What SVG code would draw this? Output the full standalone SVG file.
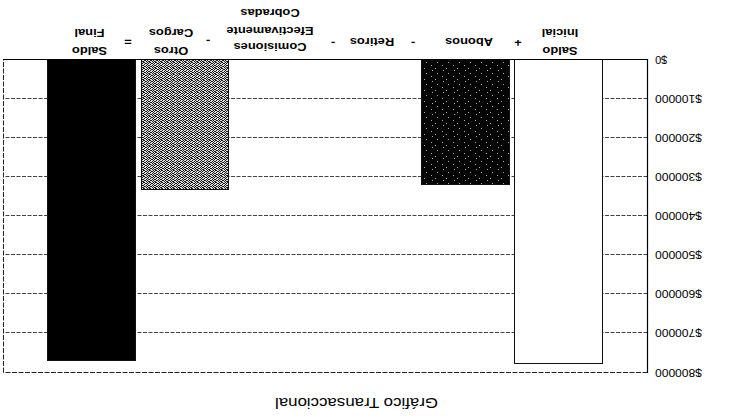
<svg xmlns="http://www.w3.org/2000/svg" width="731" height="419" viewBox="0 0 731 419">
<style>
.grid{stroke:#444;stroke-width:1;stroke-dasharray:4 1.5;fill:none}
.frame{stroke:#222;stroke-width:1;stroke-dasharray:5 1.5;fill:none}
.axis{stroke:#000;stroke-width:1.2;fill:none}
.ylab{font-family:"Liberation Sans",Arial,sans-serif;font-size:11px;fill:#000;text-anchor:end}
.cat{font-family:"Liberation Sans",Arial,sans-serif;font-size:11.5px;font-weight:bold;fill:#000;text-anchor:middle}
.title{font-family:"Liberation Sans",Arial,sans-serif;font-size:14px;fill:#000;text-anchor:middle}
.bar{stroke:#111;stroke-width:1}
</style>
<defs>
<pattern id="dark" width="11" height="11" patternUnits="userSpaceOnUse">
<rect width="11" height="11" fill="#050505"/>
<path d="M2 1h1v1h-1zM7 4h1v1h-1zM1 7h1v1h-1zM9 9h1v1h-1z" fill="#aaa"/>
</pattern>
<pattern id="gray" width="6" height="6" patternUnits="userSpaceOnUse">
<rect width="6" height="6" fill="#1a1a1a"/>
<path d="M0 0h1v1h-1zM2 0h1v1h-1zM3 0h1v1h-1zM5 0h1v1h-1zM1 1h1v1h-1zM4 1h1v1h-1zM5 1h1v1h-1zM0 2h1v1h-1zM2 2h1v1h-1zM3 2h1v1h-1zM1 3h1v1h-1zM3 3h1v1h-1zM4 3h1v1h-1zM0 4h1v1h-1zM2 4h1v1h-1zM5 4h1v1h-1zM1 5h1v1h-1zM3 5h1v1h-1zM4 5h1v1h-1z" fill="#ddd"/>
</pattern>
</defs>
<rect width="731" height="419" fill="#fff"/>
<g transform="rotate(180 365.5 209.5)">
  <g id="gridlines">
    <line class="grid" x1="83.5" y1="320.5" x2="727.5" y2="320.5"/>
    <line class="grid" x1="83.5" y1="281.5" x2="727.5" y2="281.5"/>
    <line class="grid" x1="83.5" y1="242.5" x2="727.5" y2="242.5"/>
    <line class="grid" x1="83.5" y1="203.5" x2="727.5" y2="203.5"/>
    <line class="grid" x1="83.5" y1="164.5" x2="727.5" y2="164.5"/>
    <line class="grid" x1="83.5" y1="125.5" x2="727.5" y2="125.5"/>
    <line class="grid" x1="83.5" y1="86.5" x2="727.5" y2="86.5"/>
    <line class="frame" x1="83.5" y1="46.5" x2="727.5" y2="46.5"/>
    <line class="frame" x1="727.5" y1="46.5" x2="727.5" y2="359.5"/>
  </g>
  <g id="bar-saldo-inicial"><rect class="bar" x="128.5" y="55.5" width="88" height="304" fill="#fff"/></g>
  <g id="bar-abonos"><rect class="bar" x="221.5" y="234.5" width="88" height="125" fill="url(#dark)"/></g>
  <g id="bar-otros-cargos"><rect class="bar" x="502.5" y="229.5" width="87" height="130" fill="url(#gray)"/></g>
  <g id="bar-saldo-final"><rect class="bar" x="595.5" y="58.5" width="88" height="301" fill="#000"/></g>
  <g id="axes">
    <line class="axis" x1="83.5" y1="46" x2="83.5" y2="360"/>
    <line class="axis" x1="83" y1="359.5" x2="728" y2="359.5"/>
  </g>
  <g id="y-labels">
    <text class="ylab" x="76" y="363">$0</text>
    <text class="ylab" x="76" y="324" textLength="47" lengthAdjust="spacingAndGlyphs">$100000</text>
    <text class="ylab" x="76" y="285" textLength="47" lengthAdjust="spacingAndGlyphs">$200000</text>
    <text class="ylab" x="76" y="246" textLength="47" lengthAdjust="spacingAndGlyphs">$300000</text>
    <text class="ylab" x="76" y="207" textLength="47" lengthAdjust="spacingAndGlyphs">$400000</text>
    <text class="ylab" x="76" y="168" textLength="47" lengthAdjust="spacingAndGlyphs">$500000</text>
    <text class="ylab" x="76" y="129" textLength="47" lengthAdjust="spacingAndGlyphs">$600000</text>
    <text class="ylab" x="76" y="90" textLength="47" lengthAdjust="spacingAndGlyphs">$700000</text>
    <text class="ylab" x="76" y="50" textLength="47" lengthAdjust="spacingAndGlyphs">$800000</text>
  </g>
  <g id="cat-saldo-inicial">
    <text class="cat" transform="translate(171 372.3) scale(1.12 1)">Saldo</text>
    <text class="cat" transform="translate(171 390.5) scale(1.12 1)">Inicial</text>
  </g>
  <g id="op-plus"><text class="cat" transform="translate(213 380) scale(1.12 1)">+</text></g>
  <g id="cat-abonos"><text class="cat" transform="translate(262 381) scale(1.12 1)">Abonos</text></g>
  <g id="op-minus-1"><text class="cat" transform="translate(318 379.5) scale(1.12 1)">-</text></g>
  <g id="cat-retiros"><text class="cat" transform="translate(359 381) scale(1.12 1)">Retiros</text></g>
  <g id="op-minus-2"><text class="cat" transform="translate(398 379.5) scale(1.12 1)">-</text></g>
  <g id="cat-comisiones">
    <text class="cat" transform="translate(461 376) scale(1.12 1)">Comisiones</text>
    <text class="cat" transform="translate(461 392.5) scale(1.12 1)">Efectivamente</text>
    <text class="cat" transform="translate(461 410.5) scale(1.12 1)">Cobradas</text>
  </g>
  <g id="op-minus-3"><text class="cat" transform="translate(523 381) scale(1.12 1)">-</text></g>
  <g id="cat-otros-cargos">
    <text class="cat" transform="translate(560 372.3) scale(1.12 1)">Otros</text>
    <text class="cat" transform="translate(560 390.5) scale(1.12 1)">Cargos</text>
  </g>
  <g id="op-equals"><text class="cat" transform="translate(603 381) scale(1.12 1)">=</text></g>
  <g id="cat-saldo-final">
    <text class="cat" transform="translate(641.5 372.3) scale(1.12 1)">Saldo</text>
    <text class="cat" transform="translate(641.5 390.5) scale(1.12 1)">Final</text>
  </g>
  <g id="chart-title"><text class="title" x="374.5" y="21" textLength="163" lengthAdjust="spacingAndGlyphs">Gráfico Transaccional</text></g>
</g>
</svg>
